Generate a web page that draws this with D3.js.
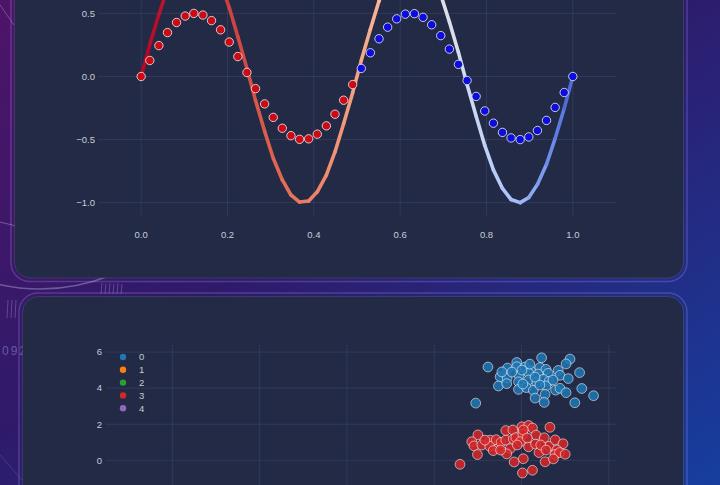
<!DOCTYPE html>
<html><head><meta charset="utf-8">
<script src="https://cdn.jsdelivr.net/npm/d3@7"></script>
<style>
html,body{margin:0;padding:0;background:#2a1d6a;overflow:hidden;}
svg{display:block;}
</style></head><body>
<svg id="c" width="720" height="485"></svg>
<script>
// ---------------- DATA ----------------
// Top chart: wave (thick gradient line) and half-amplitude dots
const waveX = [0,0.020,0.041,0.061,0.082,0.102,0.122,0.143,0.163,0.184,0.204,0.224,0.245,0.265,0.286,0.306,0.327,0.347,0.367,0.388,0.408,0.429,0.449,0.469,0.490,0.510,0.531,0.551,0.571,0.592,0.612,0.633,0.653,0.673,0.694,0.714,0.735,0.755,0.776,0.796,0.816,0.837,0.857,0.878,0.898,0.918,0.939,0.959,0.980,1.000];
const waveY = [0,0.254,0.491,0.696,0.855,0.959,0.9995,0.975,0.887,0.740,0.546,0.315,0.064,-0.191,-0.434,-0.648,-0.820,-0.939,-0.995,-0.987,-0.914,-0.782,-0.598,-0.375,-0.128,0.128,0.375,0.598,0.782,0.914,0.987,0.995,0.939,0.820,0.648,0.434,0.191,-0.064,-0.315,-0.546,-0.740,-0.887,-0.975,-0.9995,-0.959,-0.855,-0.696,-0.491,-0.254,0];
const redDotsX  = waveX.slice(0,25);
const redDotsY  = [0,0.127,0.245,0.348,0.428,0.479,0.500,0.487,0.443,0.370,0.273,0.158,0.032,-0.096,-0.217,-0.324,-0.410,-0.469,-0.498,-0.494,-0.457,-0.391,-0.299,-0.188,-0.064];
const blueDotsX = waveX.slice(25);
const blueDotsY = [0.064,0.188,0.299,0.391,0.457,0.494,0.498,0.469,0.410,0.324,0.217,0.096,-0.032,-0.158,-0.273,-0.370,-0.443,-0.487,-0.500,-0.479,-0.428,-0.348,-0.245,-0.127,0];
const topXTicks = [0,0.2,0.4,0.6,0.8,1.0];
const topYTicks = [-1.0,-0.5,0.0,0.5];

// Bottom chart: clusters
const clusterNames = ["0","1","2","3","4"];
const cluster0X = [-0.77,0.46,1.11,1.02,-0.11,-0.32,-0.11,0.08,0.21,0.42,0.56,0.84,1.33,-0.49,-0.33,-0.06,0.16,0.38,0.61,0.88,1.07,-0.53,-0.34,-0.07,0.16,0.35,0.50,0.63,-0.07,0.11,0.27,0.56,0.78,0.88,1.02,1.38,1.65,-1.05,0.31,0.54,0.52,1.22,0.01,0.31,-0.22,0.72,0.03,0.42,-0.45,0.19];
const cluster0Y = [5.17,5.68,5.61,5.34,5.42,5.11,5.19,5.17,4.96,5.14,5.04,4.98,4.86,4.63,4.56,4.70,4.85,4.78,4.82,4.71,4.53,4.12,4.25,4.35,4.45,4.30,4.49,4.38,3.93,4.03,3.88,4.12,3.89,3.99,3.75,3.98,3.58,3.17,3.45,3.66,3.21,3.19,5.00,4.61,4.89,4.45,4.23,4.17,4.90,5.33];
const cluster1X = [], cluster1Y = [];
const cluster2X = [], cluster2Y = [];
const cluster3X = [-1.00,-1.14,-1.09,-0.91,-1.01,-1.41,-0.72,-0.73,-0.58,-0.53,-0.65,-0.47,-0.36,-0.36,-0.26,-0.34,-0.20,-0.19,-0.13,0.01,0.03,0.16,0.25,0.33,0.16,0.32,0.40,0.52,0.65,0.63,0.77,0.95,0.81,0.77,0.87,1.00,0.54,0.73,0.04,-0.17,0.25,0.02,-0.03,0.44,0.56,-0.48,0.04,0.13,-0.84,-0.10];
const cluster3Y = [1.41,1.03,0.80,0.85,0.32,-0.22,1.12,0.78,1.14,0.66,0.54,1.00,1.65,1.12,0.65,0.36,1.68,1.18,1.26,1.86,1.45,1.93,1.79,1.40,0.75,0.90,0.43,1.25,1.83,0.78,1.13,0.92,0.57,0.33,0.43,0.34,-0.08,0.08,0.09,-0.09,-0.55,-0.70,1.03,0.85,0.57,0.57,1.68,1.24,1.12,0.85];
const cluster4X = [], cluster4Y = [];
const botXTicks = [-8,-6,-4,-2,0,2];
const botYTicks = [0,2,4,6];

// ---------------- STYLE ----------------
const W = 720, H = 485;
const FONT = "'Liberation Sans', Arial, sans-serif";
const LABEL = "#c8ccd6";
const GRID = "rgba(120,140,200,0.16)";
const PANEL = "#222a46";
const tab10 = ["#1f77b4","#ff7f0e","#2ca02c","#d62728","#9467bd"];
const lineStops = [
  [0.00,"#b40426"],[0.12,"#c3283a"],[0.25,"#d44f43"],[0.375,"#e97a5f"],
  [0.50,"#f4a283"],[0.56,"#f8ba9c"],[0.68,"#e4e0df"],[0.75,"#d2ddf2"],
  [0.82,"#b8cdf9"],[0.88,"#a0bbf6"],[0.94,"#7393ea"],[1.00,"#4a63d3"]
];
const lineColor = d3.scaleLinear().domain(lineStops.map(s=>s[0])).range(lineStops.map(s=>s[1])).interpolate(d3.interpolateRgb);

const svg = d3.select("#c");
const defs = svg.append("defs");

// background
const bg = defs.append("linearGradient").attr("id","bg").attr("x1",0).attr("y1",0).attr("x2",1).attr("y2",1);
bg.append("stop").attr("offset","0%").attr("stop-color","#4e1468");
bg.append("stop").attr("offset","45%").attr("stop-color","#2f1a6a");
bg.append("stop").attr("offset","100%").attr("stop-color","#163e9f");
svg.append("rect").attr("width",W).attr("height",H).attr("fill","url(#bg)");

// faint decorations
const deco = svg.append("g").attr("fill","none").attr("stroke","rgba(220,210,255,0.35)");
deco.append("circle").attr("cx",40).attr("cy",100).attr("r",189).attr("stroke-width",1.5);
deco.append("line").attr("x1",0).attr("y1",5).attr("x2",14).attr("y2",25).attr("stroke","rgba(220,210,255,0.3)");
deco.append("line").attr("x1",0).attr("y1",222).attr("x2",16).attr("y2",226).attr("stroke-width",1);
[102,106,110,114,118,122].forEach((x,i)=>{
  deco.append("line").attr("x1",x).attr("y1",283+(i%2)).attr("x2",x-1).attr("y2",294).attr("stroke","rgba(220,210,255,0.25)");
});
[8,12,16].forEach(x=>deco.append("line").attr("x1",x).attr("y1",300).attr("x2",x-1).attr("y2",318).attr("stroke","rgba(220,210,255,0.25)"));
svg.append("text").attr("x",2).attr("y",355).text("092")
  .attr("font-family",FONT).attr("font-size",12).attr("letter-spacing",2)
  .attr("fill","rgba(220,210,255,0.35)");
deco.append("line").attr("x1",0).attr("y1",455).attr("x2",22).attr("y2",480).attr("stroke","rgba(220,210,255,0.15)");

// panels
function panel(x,y,w,h){
  svg.append("rect").attr("x",x-3.5).attr("y",y-3.5).attr("width",w+7).attr("height",h+7).attr("rx",19)
    .attr("fill","none").attr("stroke","rgba(200,185,255,0.22)").attr("stroke-width",1.5);
  svg.append("rect").attr("x",x).attr("y",y).attr("width",w).attr("height",h).attr("rx",16)
    .attr("fill",PANEL).attr("stroke","rgba(255,255,255,0.10)").attr("stroke-width",1);
}
panel(14.5,-40,669,318);
panel(22.5,296.5,661,260);

// ---------------- TOP CHART ----------------
const tx = d3.scaleLinear().domain([-0.1,1.1]).range([98,616]);
const ty = d3.scaleLinear().domain([-1.1,1.1]).range([215.3,-62.3]);
const gt = svg.append("g");
gt.selectAll(".gy").data(topYTicks).join("line")
  .attr("x1",tx.range()[0]).attr("x2",tx.range()[1]).attr("y1",d=>ty(d)).attr("y2",d=>ty(d))
  .attr("stroke",GRID).attr("stroke-width",1);
gt.selectAll(".gx").data(topXTicks).join("line")
  .attr("x1",d=>tx(d)).attr("x2",d=>tx(d)).attr("y1",ty.range()[1]).attr("y2",ty.range()[0])
  .attr("stroke",GRID).attr("stroke-width",1);
const fmt1 = d3.format(".1f");
gt.selectAll(".ly").data(topYTicks).join("text")
  .attr("x",95).attr("y",d=>ty(d)).attr("dy","0.35em").attr("text-anchor","end")
  .attr("font-family",FONT).attr("font-size",9.5).attr("fill",LABEL).text(d=>fmt1(d));
gt.selectAll(".lx").data(topXTicks).join("text")
  .attr("x",d=>tx(d)).attr("y",235).attr("dy","0.35em").attr("text-anchor","middle")
  .attr("font-family",FONT).attr("font-size",9.5).attr("fill",LABEL).text(d=>fmt1(d));

// gradient line as colored segments
const segs = d3.range(waveX.length-1).map(i=>({x0:waveX[i],y0:waveY[i],x1:waveX[i+1],y1:waveY[i+1]}));
gt.append("g").selectAll("line").data(segs).join("line")
  .attr("x1",d=>tx(d.x0)).attr("y1",d=>ty(d.y0)).attr("x2",d=>tx(d.x1)).attr("y2",d=>ty(d.y1))
  .attr("stroke",d=>lineColor((d.x0+d.x1)/2)).attr("stroke-width",3.6).attr("stroke-linecap","round");

function dots(xs,ys,color){
  gt.append("g").selectAll("circle").data(xs.map((x,i)=>[x,ys[i]])).join("circle")
    .attr("cx",d=>tx(d[0])).attr("cy",d=>ty(d[1])).attr("r",4.2)
    .attr("fill",color).attr("stroke","rgba(230,230,240,0.85)").attr("stroke-width",1);
}
dots(redDotsX,redDotsY,"#cc0a14");
dots(blueDotsX,blueDotsY,"#0c0cdc");

// ---------------- BOTTOM CHART ----------------
const bx = d3.scaleLinear().domain([-9.52,2.18]).range([106,616.7]);
const by = d3.scaleLinear().domain([-10.23,6.39]).range([645,345]);
const gb = svg.append("g");
gb.selectAll(".gy").data(botYTicks).join("line")
  .attr("x1",bx.range()[0]).attr("x2",bx.range()[1]).attr("y1",d=>by(d)).attr("y2",d=>by(d))
  .attr("stroke",GRID).attr("stroke-width",1);
gb.selectAll(".gx").data(botXTicks).join("line")
  .attr("x1",d=>bx(d)).attr("x2",d=>bx(d)).attr("y1",by.range()[1]).attr("y2",by.range()[0])
  .attr("stroke",GRID).attr("stroke-width",1);
gb.selectAll(".ly").data(botYTicks).join("text")
  .attr("x",102).attr("y",d=>by(d)).attr("dy","0.35em").attr("text-anchor","end")
  .attr("font-family",FONT).attr("font-size",9.5).attr("fill",LABEL).text(d=>d3.format("d")(d));

const clusters = [[cluster0X,cluster0Y],[cluster1X,cluster1Y],[cluster2X,cluster2Y],[cluster3X,cluster3Y],[cluster4X,cluster4Y]];
clusters.forEach(([xs,ys],k)=>{
  gb.append("g").selectAll("circle").data(xs.map((x,i)=>[x,ys[i]])).join("circle")
    .attr("cx",d=>bx(d[0])).attr("cy",d=>by(d[1])).attr("r",4.9)
    .attr("fill",tab10[k]).attr("fill-opacity",0.85)
    .attr("stroke","rgba(255,255,255,0.55)").attr("stroke-width",1);
});

// legend
const lg = gb.append("g");
clusterNames.forEach((n,i)=>{
  const yy = 357 + i*12.8;
  lg.append("circle").attr("cx",123).attr("cy",yy).attr("r",3.2).attr("fill",tab10[i]);
  lg.append("text").attr("x",139).attr("y",yy).attr("dy","0.35em")
    .attr("font-family",FONT).attr("font-size",9.5).attr("fill",LABEL).text(n);
});
</script>
</body></html>
